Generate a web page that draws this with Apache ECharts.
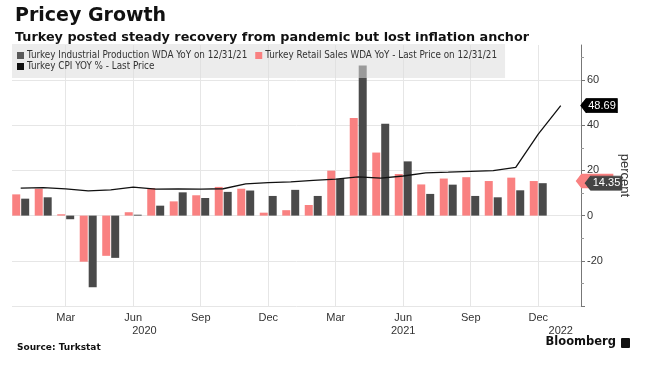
<!DOCTYPE html>
<html>
<head>
<meta charset="utf-8">
<script src="https://cdn.jsdelivr.net/npm/echarts@6/dist/echarts.min.js"></script>
<style>
html,body{margin:0;padding:0;background:#fff;}
#chart{width:646px;height:372px;}
</style>
</head>
<body>
<div id="chart"></div>
<script>
// ---- data ----
const months = ['Jan 2020','Feb 2020','Mar 2020','Apr 2020','May 2020','Jun 2020','Jul 2020','Aug 2020','Sep 2020','Oct 2020','Nov 2020','Dec 2020',
                'Jan 2021','Feb 2021','Mar 2021','Apr 2021','May 2021','Jun 2021','Jul 2021','Aug 2021','Sep 2021','Oct 2021','Nov 2021','Dec 2021'];
const cpiMonths = months.concat(['Jan 2022']);
const retailSales = [9.4, 11.9, 0.6, -20.4, -17.8, 1.5, 12.2, 6.3, 9.0, 12.7, 11.9, 1.3,
                     2.4, 4.7, 19.9, 43.2, 27.9, 18.4, 13.8, 16.4, 17.0, 15.3, 16.8, 15.3];
const industrialProduction = [7.5, 8.1, -1.6, -31.7, -18.7, 0.4, 4.4, 10.3, 7.8, 10.5, 11.1, 8.7,
                     11.4, 8.7, 16.2, 66.4, 40.7, 24.0, 9.6, 13.7, 8.7, 8.1, 11.2, 14.35];
const cpi = [12.15, 12.37, 11.86, 10.94, 11.39, 12.62, 11.76, 11.77, 11.75, 11.89, 14.03, 14.60,
             14.97, 15.61, 16.19, 17.14, 16.59, 17.53, 18.95, 19.25, 19.58, 19.89, 21.31, 36.08, 48.69];
const monthTickAt = ['Mar 2020','Jun 2020','Sep 2020','Dec 2020','Mar 2021','Jun 2021','Sep 2021','Dec 2021'];
const monthTickLabels = ['Mar','Jun','Sep','Dec','Mar','Jun','Sep','Dec'];
const yearTickLabels = ['2020','2021','2022'];
const yearTickAt = [5.5, 17, 24]; // month index where each year label sits
const yTickLabels = [-20, 0, 20, 40, 60];
const seriesNames = ['Turkey Industrial Production WDA YoY on 12/31/21',
                     'Turkey Retail Sales WDA YoY - Last Price on 12/31/21',
                     'Turkey CPI YOY % - Last Price'];

// ---- build ----
const PINK = '#f98181', DARK = '#4a4a4a', BLACK = '#111';
const idx = m => cpiMonths.indexOf(m);
const xMin = -0.387, xMax = 24.9;
const yMin = -40, yMax = 75.5;
const axisFont = 'Liberation Sans';
const tickPos = monthTickAt.map(idx);

function endTag(value, bg, border, text) {
  return {
    coord: [xMax, value],
    symbol: 'path://M0,6 L6,0 L40,0 L40,12 L6,12 Z',
    symbolSize: [36, 14],
    symbolKeepAspect: false,
    symbolOffset: ['50%', 0],
    itemStyle: {color: bg, borderColor: border, borderWidth: 1},
    label: {show: true, formatter: text, color: '#fff', fontSize: 11, fontFamily: axisFont, offset: [3, 0], position: 'inside'}
  };
}

const chart = echarts.init(document.getElementById('chart'), null, {renderer: 'canvas'});
chart.setOption({
  animation: false,
  backgroundColor: '#fff',
  title: [
    {text: 'Pricey Growth', left: 10, top: 2, textStyle: {fontFamily: 'DejaVu Sans', fontWeight: 'bold', fontSize: 19, color: '#111'}},
    {text: 'Turkey posted steady recovery from pandemic but lost inflation anchor', left: 10, top: 26,
     textStyle: {fontFamily: 'DejaVu Sans', fontWeight: 'bold', fontSize: 12.8, color: '#111'}},
    {text: 'Source: Turkstat', left: 12, top: 338, textStyle: {fontFamily: 'DejaVu Sans', fontWeight: 'bold', fontSize: 9, color: '#111'}}
  ],
  graphic: [
    {type: 'text', right: 30, top: 336, style: {text: 'Bloomberg', fontFamily: 'DejaVu Sans', fontWeight: 'bold', fontSize: 11.5, fill: '#111'}},
    {type: 'rect', right: 16, top: 338, shape: {width: 9, height: 10, r: 1}, style: {fill: '#111'}}
  ],
  legend: {
    left: 12, top: 44, width: 560,
    padding: [6, 0, 6, 5],
    itemGap: 0,
    itemWidth: 7, itemHeight: 7,
    backgroundColor: 'rgba(220,220,220,0.55)',
    icon: 'rect',
    textStyle: {fontFamily: 'Liberation Sans Narrow, DejaVu Sans Condensed, Roboto', fontSize: 9.8, lineHeight: 11,
                color: '#333', padding: [0, 8, 0, -2]},
    data: [
      {name: seriesNames[0], itemStyle: {color: '#5a5a5a'}},
      {name: seriesNames[1], itemStyle: {color: PINK}},
      {name: seriesNames[2], itemStyle: {color: BLACK}}
    ],
    z: 10
  },
  grid: {left: 12, right: 65, top: 45, bottom: 66, containLabel: false},
  xAxis: [{
    type: 'value', min: xMin, max: xMax,
    axisLine: {show: false, onZero: false},
    axisTick: {show: false, customValues: tickPos},
    axisLabel: {customValues: tickPos, margin: 6, fontFamily: axisFont, fontSize: 11, color: '#333',
      formatter: v => monthTickLabels[tickPos.indexOf(Math.round(v))] || ''},
    splitLine: {show: true, lineStyle: {color: '#e6e6e6', width: 1}}
  }, {
    type: 'value', min: xMin, max: xMax, position: 'bottom', offset: 13,
    axisLine: {show: false, onZero: false}, axisTick: {show: false}, splitLine: {show: false},
    axisLabel: {customValues: yearTickAt, margin: 6, fontFamily: axisFont, fontSize: 11, color: '#333',
      formatter: v => yearTickLabels[yearTickAt.indexOf(v)] || ''}
  }],
  yAxis: {
    type: 'value', position: 'right', min: yMin, max: yMax,
    name: 'percent', nameLocation: 'middle', nameRotate: -90, nameGap: 37,
    nameTextStyle: {fontFamily: axisFont, fontSize: 13, color: '#333'},
    axisLine: {show: true, onZero: false, lineStyle: {color: '#777'}},
    axisTick: {show: true, length: 4, lineStyle: {color: '#777'}, customValues: [-40, -20, 0, 20, 40, 60]},
    minorTick: {show: true, splitNumber: 2, length: 3, lineStyle: {color: '#999'}},
    axisLabel: {customValues: yTickLabels, margin: 6, fontFamily: axisFont, fontSize: 11, color: '#333'},
    splitLine: {show: true, lineStyle: {color: '#e6e6e6'}}
  },
  series: [
    {
      name: seriesNames[1], type: 'bar', xAxisIndex: 0,
      data: retailSales.map((v, i) => [i, v]),
      barWidth: 8, barGap: '12%',
      itemStyle: {color: PINK},
      markPoint: {silent: true, data: [endTag(retailSales[retailSales.length - 1], PINK, PINK, '')]}
    },
    {
      name: seriesNames[0], type: 'bar', xAxisIndex: 0,
      data: industrialProduction.map((v, i) => [i, v]),
      barWidth: 8, barGap: '12%',
      itemStyle: {color: DARK},
      markPoint: {silent: true, data: [endTag(industrialProduction[industrialProduction.length - 1], '#444', '#444',
        industrialProduction[industrialProduction.length - 1].toFixed(2))]}
    },
    {
      name: seriesNames[2], type: 'line', xAxisIndex: 0,
      data: cpi.map((v, i) => [i, v]),
      showSymbol: false, symbol: 'none',
      lineStyle: {color: BLACK, width: 1.3},
      itemStyle: {color: BLACK},
      z: 3,
      markPoint: {silent: true, data: [endTag(cpi[cpi.length - 1], '#000', '#000', cpi[cpi.length - 1].toFixed(2))]}
    }
  ]
});
</script>
</body>
</html>
